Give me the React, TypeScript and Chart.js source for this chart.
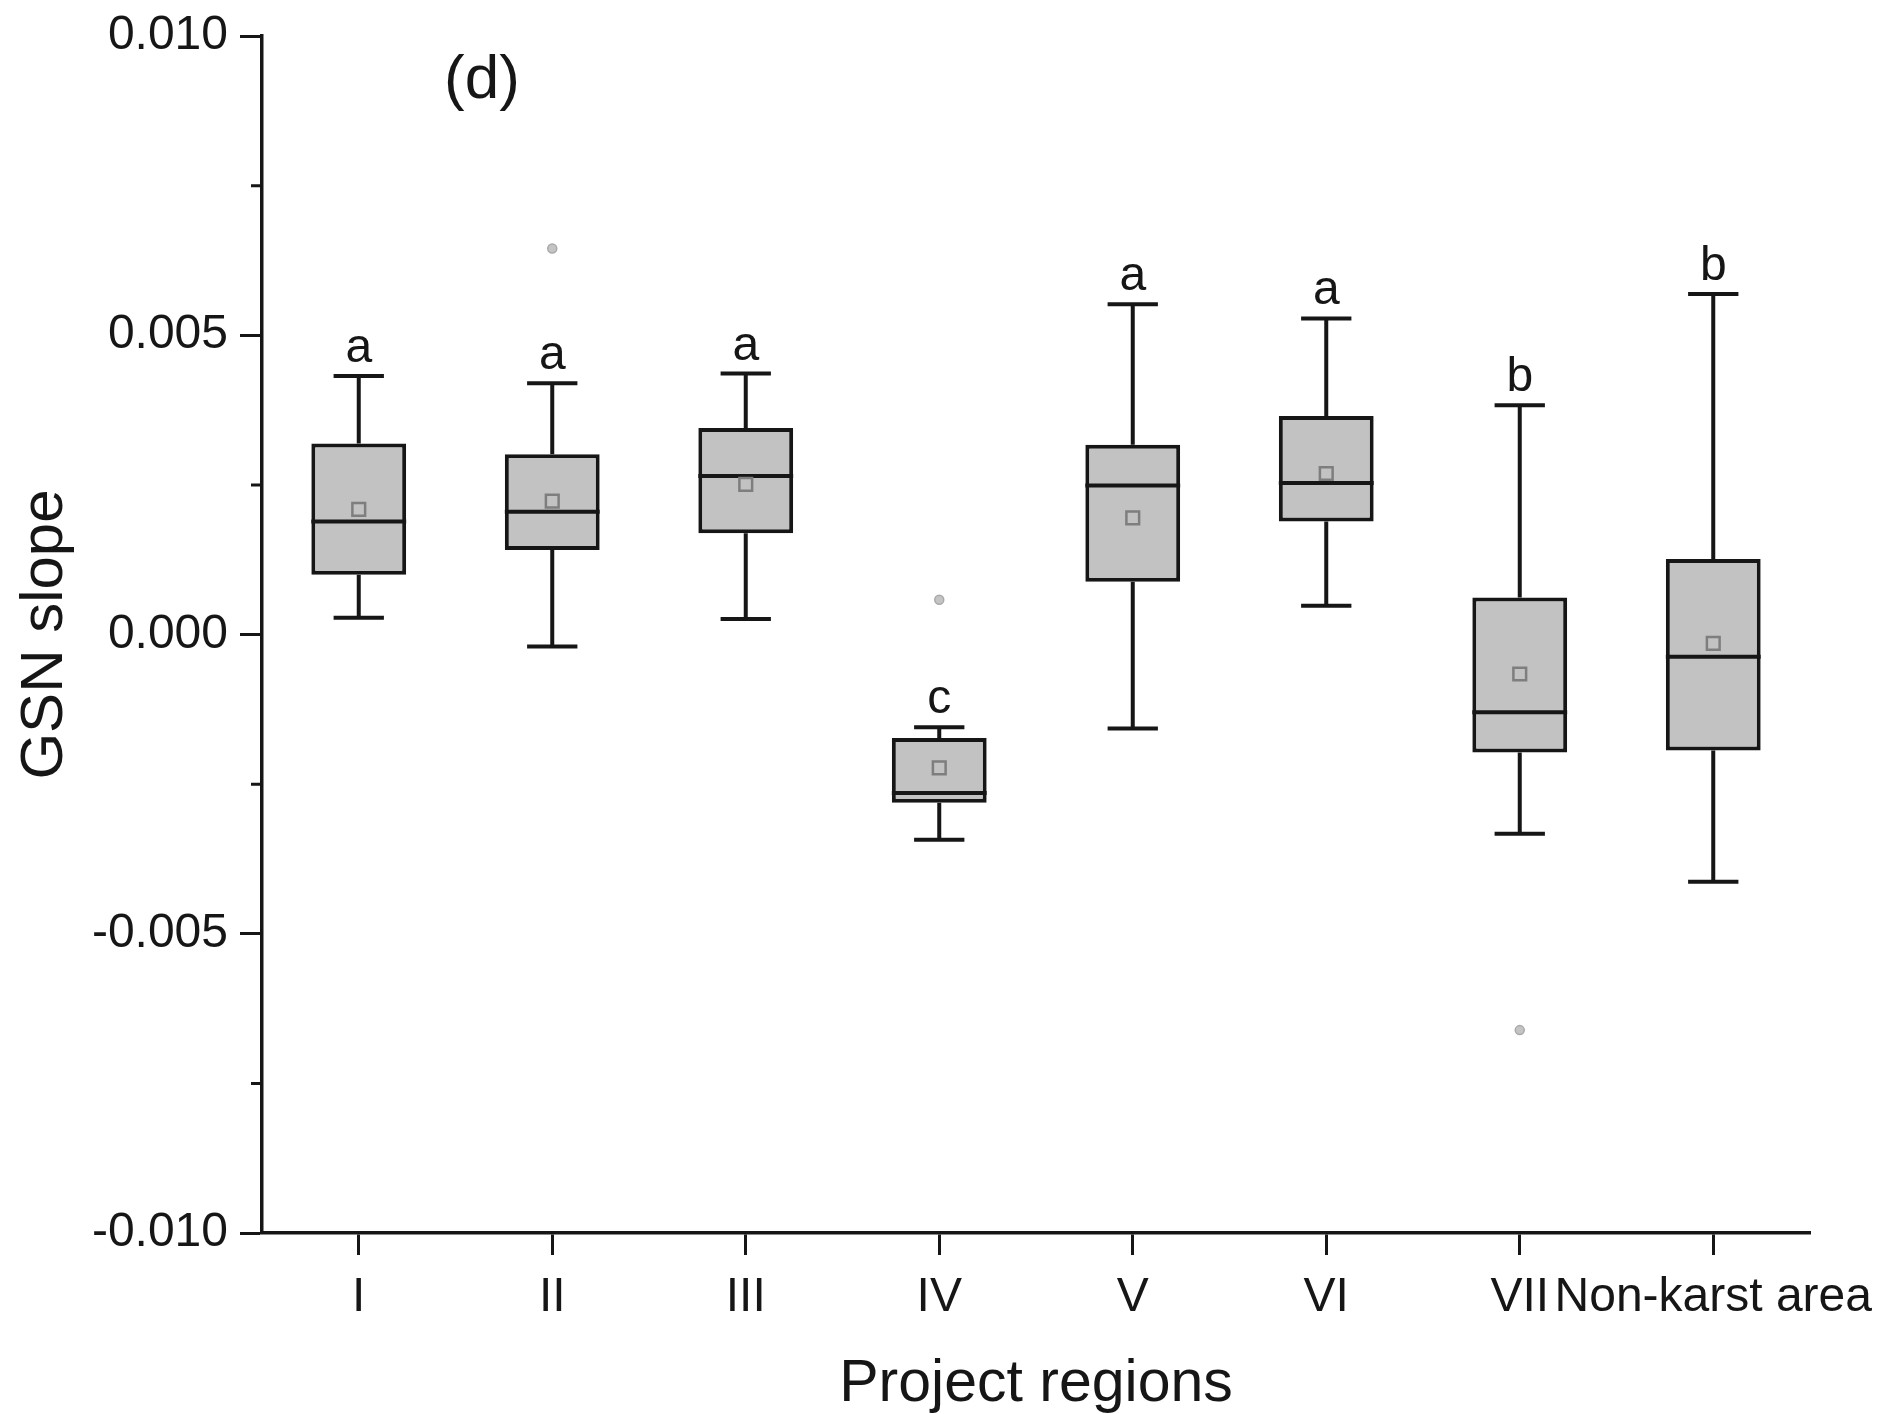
import React, { useEffect, useRef } from "react";
import { Chart, registerables } from "chart.js";

Chart.register(...registerables);

const categories = ["I", "II", "III", "IV", "V", "VI", "VII", "Non-karst area"];
const whiskerMax = [0.00432, 0.0042, 0.00436, -0.00155, 0.00552, 0.00528, 0.00383, 0.00569];
const q3 = [0.00319, 0.00301, 0.00345, -0.00173, 0.00317, 0.00365, 0.00062, 0.00126];
const medians = [0.00189, 0.00205, 0.00265, -0.00265, 0.00249, 0.00253, -0.0013, -0.00037];
const q1 = [0.001, 0.00141, 0.00169, -0.00281, 0.00088, 0.00189, -0.00197, -0.00194];
const whiskerMin = [0.00028, -0.0002, 0.00026, -0.00343, -0.00157, 0.00048, -0.00333, -0.00413];
const means = [0.00209, 0.00223, 0.00251, -0.00223, 0.00195, 0.00269, -0.00066, -0.00015];
const outlierCats = ["II", "IV", "VII"];
const outlierVals = [0.00645, 0.00058, -0.00661];
const groupLetters = ["a", "a", "a", "c", "a", "a", "b", "b"];
const minorTicks = [-0.0075, -0.0025, 0.0025, 0.0075];
const panelLabel = "(d)";

const FONT = "'Liberation Sans', Arial, Helvetica, sans-serif";
const INK = "#161616";
const LW = 4;

const boxPlugin = {
  id: "boxParts",
  beforeDatasetsDraw(chart: any) {
    const { ctx, scales } = chart;
    const xs = scales.x;
    const ys = scales.y;
    const band = xs.getPixelForValue(1) - xs.getPixelForValue(0);
    const capHalf = band * 0.13;
    ctx.save();
    ctx.strokeStyle = INK;
    ctx.lineWidth = LW;
    ctx.lineCap = "butt";
    for (let i = 0; i < categories.length; i++) {
      const x = xs.getPixelForValue(i);
      const yMax = ys.getPixelForValue(whiskerMax[i]);
      const yMin = ys.getPixelForValue(whiskerMin[i]);
      const yQ3 = ys.getPixelForValue(q3[i]);
      const yQ1 = ys.getPixelForValue(q1[i]);
      ctx.beginPath();
      ctx.moveTo(x, yQ3);
      ctx.lineTo(x, yMax);
      ctx.moveTo(x, yQ1);
      ctx.lineTo(x, yMin);
      ctx.moveTo(x - capHalf, yMax);
      ctx.lineTo(x + capHalf, yMax);
      ctx.moveTo(x - capHalf, yMin);
      ctx.lineTo(x + capHalf, yMin);
      ctx.stroke();
    }
    // minor ticks on y axis
    const left = chart.chartArea.left;
    ctx.lineWidth = 3;
    ctx.beginPath();
    for (const v of minorTicks) {
      const y = ys.getPixelForValue(v);
      ctx.moveTo(left - 11, y);
      ctx.lineTo(left, y);
    }
    ctx.stroke();
    ctx.restore();
  },
  afterDatasetDraw(chart: any, args: any) {
    if (args.index !== 0) return;
    const { ctx, scales } = chart;
    const xs = scales.x;
    const ys = scales.y;
    const meta = chart.getDatasetMeta(0);
    ctx.save();
    ctx.strokeStyle = INK;
    ctx.lineWidth = LW;
    for (let i = 0; i < categories.length; i++) {
      const el = meta.data[i];
      const half = el.width / 2;
      const x = xs.getPixelForValue(i);
      const y = ys.getPixelForValue(medians[i]);
      ctx.beginPath();
      ctx.moveTo(x - half, y);
      ctx.lineTo(x + half, y);
      ctx.stroke();
    }
    ctx.restore();
  },
  afterDatasetsDraw(chart: any) {
    const { ctx, scales, chartArea } = chart;
    const xs = scales.x;
    const ys = scales.y;
    ctx.save();
    ctx.fillStyle = INK;
    ctx.font = `48px ${FONT}`;
    ctx.textAlign = "center";
    ctx.textBaseline = "alphabetic";
    for (let i = 0; i < categories.length; i++) {
      const x = xs.getPixelForValue(i);
      const y = ys.getPixelForValue(whiskerMax[i]);
      ctx.fillText(groupLetters[i], x, y - 14);
    }
    ctx.font = `62px ${FONT}`;
    ctx.textBaseline = "middle";
    ctx.fillText(panelLabel, chartArea.left + 220, chartArea.top + 45);
    ctx.restore();
  },
};

const zeroPad = (s: any) => {
  s.paddingTop = 0;
  s.paddingBottom = 0;
  s.paddingLeft = 0;
  s.paddingRight = 0;
};

export default function App() {
  const ref = useRef<HTMLCanvasElement | null>(null);

  useEffect(() => {
    if (!ref.current) return;
    const chart = new Chart(ref.current, {
      type: "bar",
      data: {
        labels: categories,
        datasets: [
          {
            type: "bar",
            label: "box",
            data: categories.map((_, i) => [q1[i], q3[i]]) as any,
            backgroundColor: "#c2c2c2",
            borderColor: INK,
            borderWidth: LW,
            borderSkipped: false,
            barPercentage: 0.49,
            categoryPercentage: 1.0,
            order: 3,
          } as any,
          {
            type: "line",
            label: "mean",
            data: means,
            showLine: false,
            pointStyle: "rect",
            pointRadius: 9,
            pointBackgroundColor: "rgba(0,0,0,0)",
            pointBorderColor: "#7e7e7e",
            pointBorderWidth: 2.5,
            order: 1,
          } as any,
          {
            type: "line",
            label: "outliers",
            data: outlierCats.map((c, i) => ({ x: c, y: outlierVals[i] })),
            showLine: false,
            pointStyle: "circle",
            pointRadius: 4.5,
            pointBackgroundColor: "#c4c4c4",
            pointBorderColor: "#aaaaaa",
            pointBorderWidth: 1.5,
            order: 1,
          } as any,
        ],
      },
      options: {
        responsive: false,
        animation: false,
        devicePixelRatio: 1,
        layout: { padding: { left: 0, top: 36, right: 73, bottom: 0 } },
        plugins: {
          legend: { display: false },
          tooltip: { enabled: false },
        },
        scales: {
          x: {
            type: "category",
            offset: true,
            grid: {
              display: true,
              drawOnChartArea: false,
              offset: false,
              tickLength: 22,
              tickWidth: 3,
              color: INK,
            },
            border: { display: true, color: INK, width: 3.5 },
            ticks: {
              font: { size: 48, family: FONT },
              color: INK,
              padding: 14,
              maxRotation: 0,
              autoSkip: false,
            },
            title: {
              display: true,
              text: "Project regions",
              font: { size: 59, family: FONT },
              color: INK,
              padding: { top: 0, bottom: -6 },
            },
            afterFit: (s: any) => {
              s.height = 181;
              zeroPad(s);
            },
          },
          y: {
            type: "linear",
            min: -0.01,
            max: 0.01,
            grid: {
              display: true,
              drawOnChartArea: false,
              tickLength: 22,
              tickWidth: 3,
              color: INK,
            },
            border: { display: true, color: INK, width: 3.5 },
            ticks: {
              stepSize: 0.005,
              font: { size: 48, family: FONT },
              color: INK,
              padding: 12,
              callback: (v: any) => (Math.abs(Number(v)) < 1e-9 ? "0.000" : Number(v).toFixed(3)),
            },
            title: {
              display: true,
              text: "GSN slope",
              font: { size: 60, family: FONT },
              color: INK,
              padding: { top: 9, bottom: 0 },
            },
            afterFit: (s: any) => {
              s.width = 262;
              zeroPad(s);
            },
          },
        },
      } as any,
      plugins: [boxPlugin],
    });
    return () => chart.destroy();
  }, []);

  return (
    <div style={{ position: "absolute", left: 0, top: 0, width: 1883, height: 1414, background: "#fff" }}>
      <canvas ref={ref} width={1883} height={1414} style={{ display: "block" }} />
    </div>
  );
}
